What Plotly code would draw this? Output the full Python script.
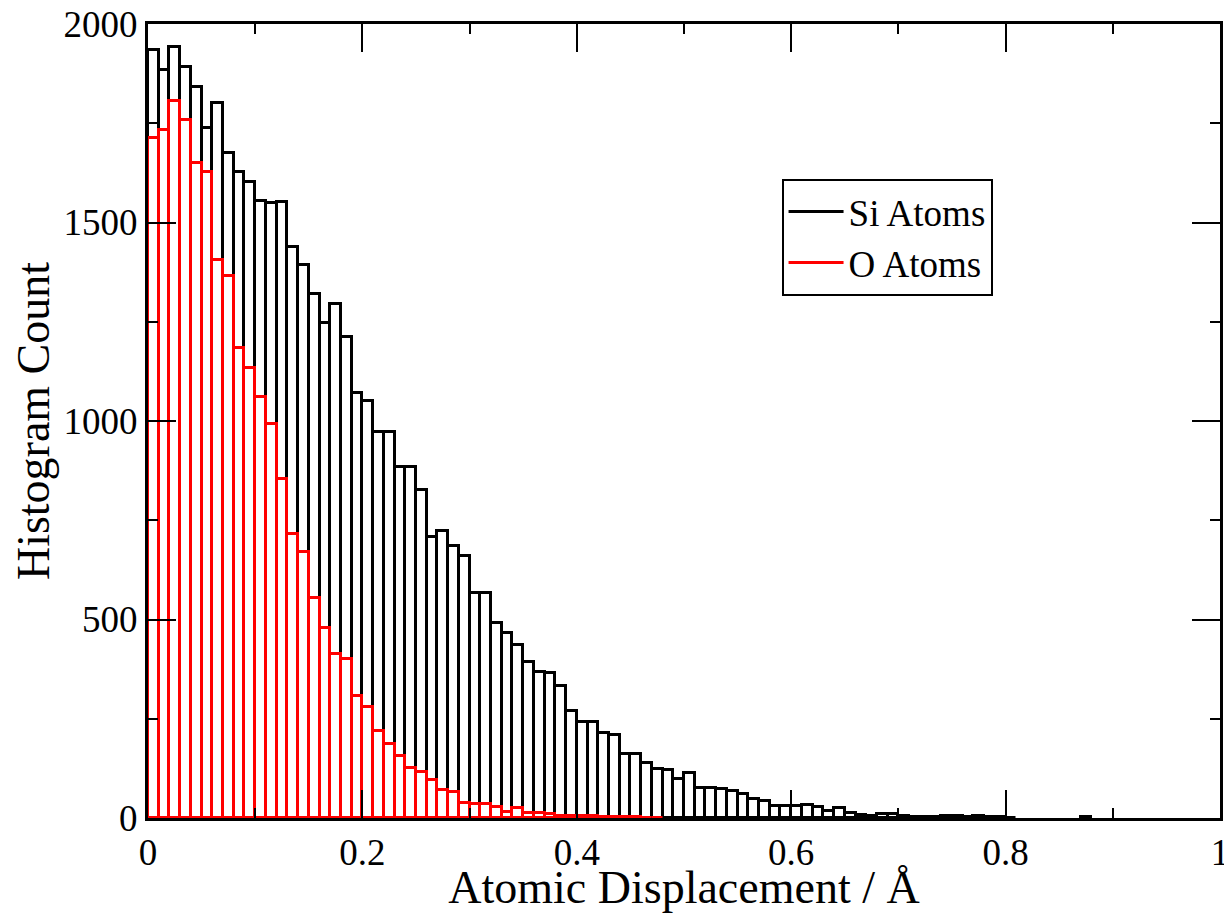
import numpy as np
import plotly.graph_objects as go

# histogram bins: 100 bins of width 0.01 from 0 to 1 (Angstrom)
bin_width = 0.01
bin_centers = np.arange(100) * bin_width + bin_width / 2

si_counts = [
    1934, 1884, 1943, 1892, 1842, 1737, 1801, 1675, 1628, 1603,
    1554, 1549, 1551, 1439, 1394, 1321, 1246, 1295, 1211, 1070,
    1051, 973, 973, 884, 884, 826, 709, 723, 685, 660,
    568, 568, 492, 465, 437, 394, 369, 366, 333, 270,
    241, 241, 213, 209, 160, 160, 138, 123, 121, 98,
    113, 76, 76, 74, 68, 60, 48, 43, 30, 30,
    30, 32, 28, 18, 24, 12, 8, 6, 10, 10,
    6, 3, 2, 2, 5, 5, 3, 4, 2, 2,
    1, 0, 0, 0, 0, 0, 0, 2, 0, 0,
    0, 0, 0, 0, 0, 0, 0, 0, 0, 0,
]

o_counts = [
    1712, 1733, 1807, 1758, 1651, 1628, 1406, 1364, 1185, 1133,
    1061, 992, 853, 715, 669, 554, 478, 413, 400, 308,
    279, 220, 186, 156, 125, 115, 96, 71, 66, 39,
    35, 35, 27, 16, 24, 13, 13, 10, 6, 5,
    4, 4, 3, 3, 2, 2, 1, 1, 0, 0,
    0, 0, 0, 0, 0, 0, 0, 0, 0, 0,
    0, 0, 0, 0, 0, 0, 0, 0, 0, 0,
    0, 0, 0, 0, 0, 0, 0, 0, 0, 0,
    0, 0, 0, 0, 0, 0, 0, 0, 0, 0,
    0, 0, 0, 0, 0, 0, 0, 0, 0, 0,
]

series_names = ["Si Atoms", "O Atoms"]
series_colors = ["black", "red"]

FONT = "Liberation Serif, Times New Roman, serif"

fig = go.Figure()

# outlined histogram bars, O drawn over Si; empty bins are not drawn
for counts, name, color in zip([si_counts, o_counts], series_names, series_colors):
    fig.add_trace(go.Bar(
        x=bin_centers, y=[c if c > 0 else None for c in counts], width=bin_width,
        marker=dict(color="rgba(0,0,0,0)", line=dict(color=color, width=3)),
        showlegend=False, hoverinfo="x+y", name=name,
    ))

# line-style legend entries
for name, color in zip(series_names, series_colors):
    fig.add_trace(go.Scatter(
        x=[None], y=[None], mode="lines", name=name,
        line=dict(color=color, width=3),
    ))

axis_common = dict(
    showline=True, linecolor="black", linewidth=3, mirror="allticks",
    ticks="inside", ticklen=28, tickwidth=1.5, tickcolor="black",
    showgrid=False, zeroline=False, automargin=False,
    ticklabeloverflow="allow",
    tickfont=dict(family=FONT, size=37, color="black"),
)

# the page body adds an 8px offset, so the figure is 8px smaller on each side
fig.update_layout(
    width=1224, height=905,
    margin=dict(l=140, r=12, t=16, b=95, autoexpand=False),
    paper_bgcolor="white", plot_bgcolor="white",
    barmode="overlay", bargap=0,
    font=dict(family=FONT, color="black"),
    xaxis=dict(
        range=[0, 1], tickvals=[0, 0.2, 0.4, 0.6, 0.8, 1],
        ticktext=["0", "0.2", "0.4", "0.6", "0.8", "1"],
        minor=dict(dtick=0.1, ticks="inside", ticklen=10, tickwidth=1.5, tickcolor="black"),
        title=dict(text="Atomic Displacement / Å", font=dict(family=FONT, size=46), standoff=7),
        ticklabelstandoff=0,
        **axis_common,
    ),
    yaxis=dict(
        range=[0, 2000], tickvals=[0, 500, 1000, 1500, 2000],
        minor=dict(dtick=250, ticks="inside", ticklen=10, tickwidth=1.5, tickcolor="black"),
        title=dict(text="Histogram Count", font=dict(family=FONT, size=46), standoff=14),
        **axis_common,
    ),
    legend=dict(
        x=0.591, y=0.805, xanchor="left", yanchor="top",
        bgcolor="white", bordercolor="black", borderwidth=2,
        font=dict(family=FONT, size=37, color="black"),
        tracegroupgap=0, itemwidth=55,
    ),
)

fig.write_html("out.html")
